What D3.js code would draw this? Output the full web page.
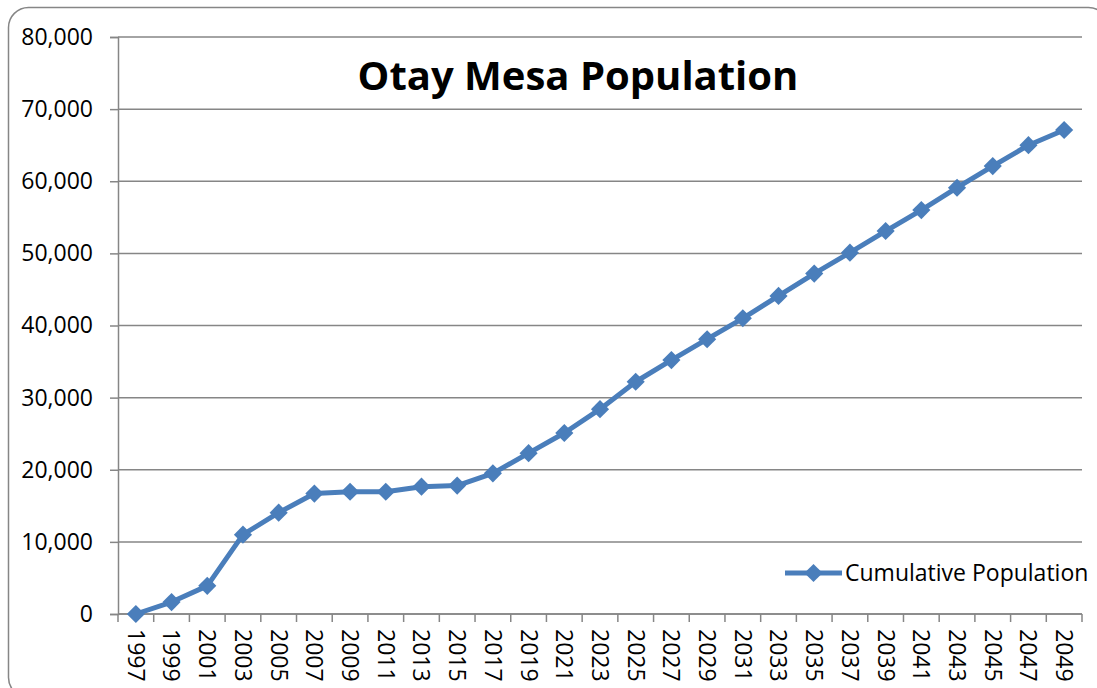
<!DOCTYPE html>
<html>
<head>
<meta charset="utf-8">
<script src="https://cdn.jsdelivr.net/npm/d3@7"></script>
<style>
  body { margin: 0; background: #fff; }
  svg { display: block; font-family: "Open Sans", "Liberation Sans", Arial, sans-serif; }
</style>
</head>
<body>
<svg id="chart" width="1097" height="688"></svg>
<script>
'use strict';

// chart data
const years = ['1997', '1999', '2001', '2003', '2005', '2007', '2009', '2011', '2013', '2015',
  '2017', '2019', '2021', '2023', '2025', '2027', '2029', '2031', '2033', '2035', '2037',
  '2039', '2041', '2043', '2045', '2047', '2049'];
const population = [0, 1650, 3900, 11000, 14050, 16700, 16950, 16950, 17650, 17800,
  19500, 22300, 25100, 28400, 32200, 35200, 38100, 41000, 44100, 47200, 50100,
  53100, 56000, 59100, 62100, 65000, 67100];
const yTicks = [0, 10000, 20000, 30000, 40000, 50000, 60000, 70000, 80000];
const chartTitle = 'Otay Mesa Population';
const seriesName = 'Cumulative Population';

const blue = '#4a7ebb';
const gray = '#868686';
const fontFamily = '"Open Sans", "Liberation Sans", Arial, sans-serif';

const svg = d3.select('#chart');

// outer chart border with rounded corners
svg.append('rect')
  .attr('x', 8.5).attr('y', 7.5)
  .attr('width', 1100).attr('height', 690)
  .attr('rx', 20)
  .attr('fill', '#fff')
  .attr('stroke', gray)
  .attr('stroke-width', 1.5);

// plot area edges
const plotL = 118, plotR = 1082, plotT = 37, plotB = 614;

const x = d3.scaleBand().domain(years).range([plotL, plotR]).padding(0);
const y = d3.scaleLinear().domain([0, 80000]).range([plotB, plotT]);
const cx = d => x(d) + x.bandwidth() / 2;

// horizontal gridlines
svg.append('g')
  .selectAll('line')
  .data(yTicks)
  .join('line')
  .attr('x1', plotL).attr('x2', plotR)
  .attr('y1', d => y(d)).attr('y2', d => y(d))
  .attr('stroke', gray)
  .attr('stroke-width', 1.5);

// y axis
const yAxis = svg.append('g')
  .attr('transform', `translate(${plotL},0)`)
  .call(d3.axisLeft(y).tickValues(yTicks).tickFormat(d3.format(',')).tickSize(8).tickPadding(17));
yAxis.select('.domain').attr('stroke', gray).attr('stroke-width', 1.5);
yAxis.selectAll('.tick line').attr('stroke', gray).attr('stroke-width', 1.5);
yAxis.selectAll('.tick text')
  .attr('font-size', 23)
  .attr('font-family', fontFamily)
  .attr('fill', '#000');

// x axis: baseline, tick marks at category edges, rotated labels
const xAxis = svg.append('g');
xAxis.append('line')
  .attr('x1', plotL).attr('x2', plotR)
  .attr('y1', plotB).attr('y2', plotB)
  .attr('stroke', gray).attr('stroke-width', 1.5);
xAxis.selectAll('line.tick')
  .data(years.map(d => x(d)).concat([plotR]))
  .join('line')
  .attr('class', 'tick')
  .attr('x1', d => d).attr('x2', d => d)
  .attr('y1', plotB).attr('y2', plotB + 8)
  .attr('stroke', gray).attr('stroke-width', 1.5);
xAxis.selectAll('text')
  .data(years)
  .join('text')
  .attr('transform', d => `translate(${cx(d)},${plotB + 15}) rotate(90)`)
  .attr('dy', '0.35em')
  .attr('font-size', 23)
  .attr('fill', '#000')
  .text(d => d);

// the series line
const line = d3.line()
  .x((d, i) => cx(years[i]))
  .y(d => y(d));

svg.append('path')
  .datum(population)
  .attr('d', line)
  .attr('fill', 'none')
  .attr('stroke', blue)
  .attr('stroke-width', 5)
  .attr('stroke-linejoin', 'round');

// diamond markers
const diamond = d3.symbol().type(d3.symbolDiamond2).size(210);
svg.append('g')
  .selectAll('path')
  .data(population)
  .join('path')
  .attr('transform', (d, i) => `translate(${cx(years[i])},${y(d)})`)
  .attr('d', diamond)
  .attr('fill', blue);

// title
svg.append('text')
  .attr('x', 578).attr('y', 90)
  .attr('text-anchor', 'middle')
  .attr('font-size', 40)
  .attr('font-weight', 'bold')
  .attr('fill', '#000')
  .text(chartTitle);

// legend
const legend = svg.append('g').attr('transform', 'translate(785,573)');
legend.append('line')
  .attr('x1', 0).attr('x2', 57)
  .attr('stroke', blue).attr('stroke-width', 5);
legend.append('path')
  .attr('transform', 'translate(28.5,0)')
  .attr('d', diamond)
  .attr('fill', blue);
legend.append('text')
  .attr('x', 60).attr('dy', '0.35em')
  .attr('font-size', 23)
  .attr('fill', '#000')
  .text(seriesName);
</script>
</body>
</html>
